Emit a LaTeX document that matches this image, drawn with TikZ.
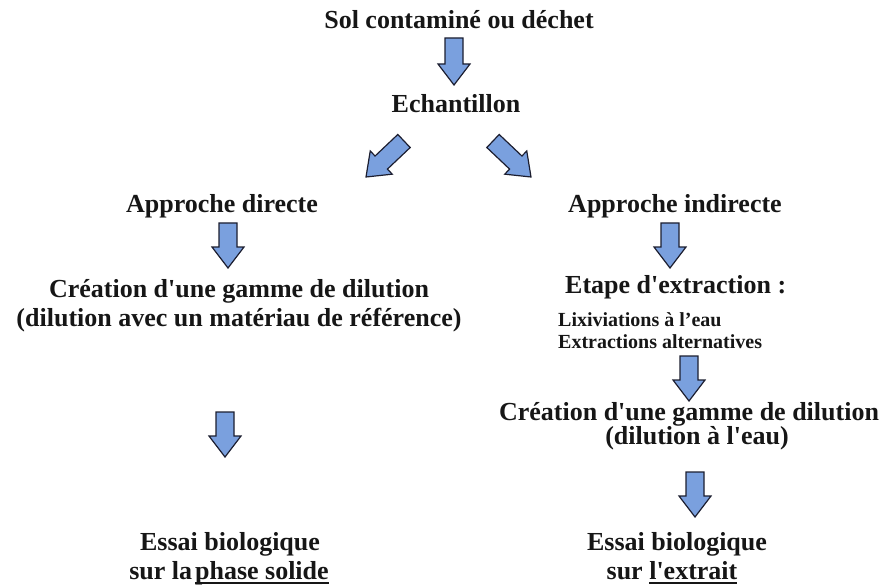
\documentclass[tikz,border=0pt]{standalone}
\usepackage{fontspec}
\setmainfont{Liberation Serif}[Ligatures=TeXOff]
\usetikzlibrary{calc}

\definecolor{arrowfill}{RGB}{122,160,222}
\definecolor{arrowline}{RGB}{28,30,48}
\definecolor{inktxt}{RGB}{22,22,22}

% block arrow from coordinate #1 to coordinate #2 (tip at #2)
\newcommand\blockarrow[2]{%
  \filldraw[barrow]
    ($(#1)!9pt!90:(#2)$)
    -- ($($(#2)!21pt!(#1)$)!9pt!90:(#2)$)
    -- ($($(#2)!21pt!(#1)$)!16pt!90:(#2)$)
    -- (#2)
    -- ($($(#2)!21pt!(#1)$)!16pt!-90:(#2)$)
    -- ($($(#2)!21pt!(#1)$)!9pt!-90:(#2)$)
    -- ($(#1)!9pt!-90:(#2)$)
    -- cycle;}

% thick underline
\newcommand\ultext[1]{\setbox0=\hbox{#1}\rlap{\rule[-4.5pt]{\wd0}{1.8pt}}\box0}

\begin{document}
\begin{tikzpicture}[x=1pt,y=-1pt,
  txt/.style={font=\bfseries\fontsize{26}{29}\selectfont, text=inktxt, inner sep=0pt, anchor=base},
  smalltxt/.style={font=\bfseries\fontsize{20}{22}\selectfont, text=inktxt, inner sep=0pt, anchor=base west},
  barrow/.style={fill=arrowfill, draw=arrowline, line width=1.2pt, line join=miter}]
\useasboundingbox (0,0) rectangle (894,588);

% top of the chain
\node[txt] (sol) at (459,29) {Sol contaminé ou déchet};
\node[txt] (ech) at (456,113) {Echantillon};

% direct approach (left)
\node[txt] (dir) at (222,212) {Approche directe};
\node[txt] (creA1) at (239,297) {Création d'une gamme de dilution};
\node[txt] (creA2) at (239,326) {(dilution avec un matériau de référence)};
\node[txt] (essA1) at (230,550) {Essai biologique};
\node[txt] (essA2) at (229,579) {sur la\hspace{3pt}\ultext{phase solide}};

% indirect approach (right)
\node[txt] (ind) at (675,212) {Approche indirecte};
\node[txt, anchor=base west] (etape) at (565,293) {Etape d'extraction :};
\node[smalltxt] (lix) at (558,326) {Lixiviations à l’eau};
\node[smalltxt] (alt) at (558,348) {Extractions alternatives};
\node[txt] (creB1) at (689,420) {Création d'une gamme de dilution};
\node[txt] (creB2) at (697,444) {(dilution à l'eau)};
\node[txt] (essB1) at (677,550) {Essai biologique};
\node[txt] (essB2) at (672,579) {sur \ultext{l'extrait}};

% arrow end points
\coordinate (a1s) at (454,38);   \coordinate (a1e) at (454,85);
\coordinate (a2s) at (404,141);  \coordinate (a2e) at (366,177);
\coordinate (a3s) at (493,141);  \coordinate (a3e) at (531,177);
\coordinate (a4s) at (228,223);  \coordinate (a4e) at (228,268);
\coordinate (a5s) at (670,223);  \coordinate (a5e) at (670,268);
\coordinate (a6s) at (689,356);  \coordinate (a6e) at (689,401);
\coordinate (a7s) at (225,412);  \coordinate (a7e) at (225,457);
\coordinate (a8s) at (695,472);  \coordinate (a8e) at (695,517);

\blockarrow{a1s}{a1e}
\blockarrow{a2s}{a2e}
\blockarrow{a3s}{a3e}
\blockarrow{a4s}{a4e}
\blockarrow{a5s}{a5e}
\blockarrow{a6s}{a6e}
\blockarrow{a7s}{a7e}
\blockarrow{a8s}{a8e}
\end{tikzpicture}
\end{document}
